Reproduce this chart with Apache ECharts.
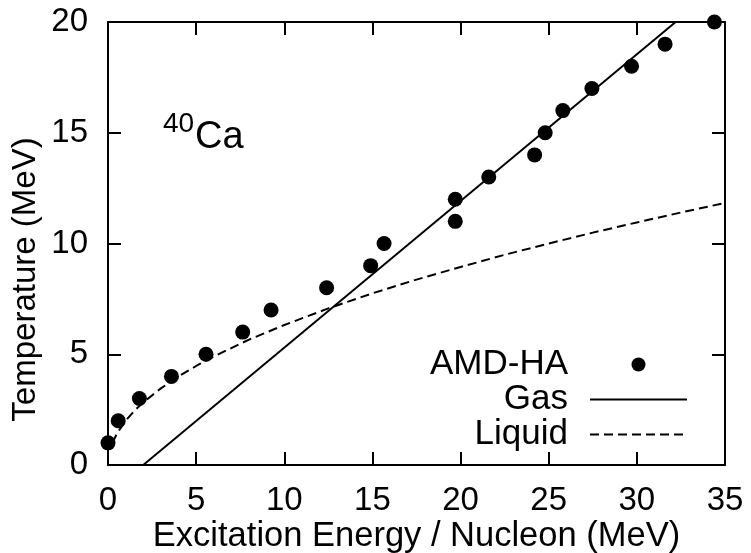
<!DOCTYPE html>
<html>
<head>
<meta charset="utf-8">
<script src="https://cdn.jsdelivr.net/npm/echarts@6/dist/echarts.min.js"></script>
<style>
html,body{margin:0;padding:0;background:#fff;}
#chart{width:751px;height:553px;}
</style>
</head>
<body>
<div id="chart"></div>
<script>
// AMD-HA points (excitation energy per nucleon, temperature)
var amdE = [0, 0.58, 1.78, 3.6, 5.56, 7.64, 9.25, 12.4, 14.9, 15.66, 19.7, 19.7, 21.6, 24.2, 24.8, 25.8, 27.45, 29.7, 31.6, 34.4];
var amdT = [1, 2, 3, 4, 5, 6, 7, 8, 9, 10, 11, 12, 13, 14, 15, 16, 17, 18, 19, 20];
// Gas line end points
var gasE = [2, 32.2];
var gasT = [0, 20];
// Liquid curve
var liquidE = [0.25, 0.5, 1, 1.5, 2, 3, 4, 5, 6, 8, 10, 12.5, 15, 17.5, 20, 22.5, 25, 27.5, 30, 32.5, 35];
var liquidT = [1.0, 1.41, 2.0, 2.45, 2.83, 3.46, 4.0, 4.47, 4.9, 5.66, 6.32, 7.07, 7.75, 8.37, 8.94, 9.49, 10.0, 10.49, 10.95, 11.4, 11.83];
var xTicks = [0, 5, 10, 15, 20, 25, 30, 35];
var yTicks = [0, 5, 10, 15, 20];

function zip(a, b) { return a.map(function (v, i) { return [v, b[i]]; }); }

var FONT = 'Liberation Sans, Arial, Helvetica, sans-serif';
var FS = 33;

var chart = echarts.init(document.getElementById('chart'), null, {renderer: 'canvas'});

var axisCommon = {
  axisLine: {show: true, onZero: false, lineStyle: {color: '#000', width: 2}},
  axisTick: {show: true, inside: true, length: 13, lineStyle: {color: '#000', width: 2}},
  splitLine: {show: false}
};

var option = {
  backgroundColor: '#fff',
  animation: false,
  grid: {left: 108, right: 26, top: 22, bottom: 88, containLabel: false, outerBoundsMode: 'none'},
  xAxis: [
    Object.assign({}, axisCommon, {
      type: 'value', position: 'bottom', min: xTicks[0], max: xTicks[xTicks.length - 1], interval: 5,
      name: 'Excitation Energy / Nucleon (MeV)', nameLocation: 'middle', nameGap: 54, nameMoveOverlap: false,
      nameTextStyle: {fontFamily: FONT, fontSize: 34.5, color: '#000'},
      axisLabel: {margin: 19, fontFamily: FONT, fontSize: FS, color: '#000'}
    }),
    Object.assign({}, axisCommon, {
      type: 'value', position: 'top', min: xTicks[0], max: xTicks[xTicks.length - 1], interval: 5,
      axisLabel: {show: false}
    })
  ],
  yAxis: [
    Object.assign({}, axisCommon, {
      type: 'value', position: 'left', min: yTicks[0], max: yTicks[yTicks.length - 1], interval: 5,
      name: 'Temperature (MeV)', nameLocation: 'middle', nameGap: 66, nameMoveOverlap: false,
      nameTextStyle: {fontFamily: FONT, fontSize: FS, color: '#000', padding: [0, 72, 0, 0]},
      axisLabel: {margin: 20, fontFamily: FONT, fontSize: FS, color: '#000'}
    }),
    Object.assign({}, axisCommon, {
      type: 'value', position: 'right', min: yTicks[0], max: yTicks[yTicks.length - 1], interval: 5,
      axisLabel: {show: false}
    })
  ],
  legend: {
    orient: 'vertical', align: 'right', right: 63, top: 347, padding: 0, itemGap: 0,
    itemWidth: 97, itemHeight: 14, selectedMode: false,
    textStyle: {fontFamily: FONT, fontSize: 35, color: '#000', lineHeight: 35, padding: [0, 17, 0, 0]},
    data: [
      {name: 'AMD-HA'},
      {name: 'Gas', itemStyle: {opacity: 0}},
      {name: 'Liquid', itemStyle: {opacity: 0}}
    ]
  },
  graphic: [
    {type: 'text', left: 163, top: 110, style: {text: '40', font: '28px ' + FONT, fill: '#000'}},
    {type: 'text', left: 195, top: 119, style: {text: 'Ca', font: '38px ' + FONT, fill: '#000'}}
  ],
  series: [
    {
      name: 'AMD-HA', type: 'scatter', symbol: 'circle', symbolSize: 15, clip: false,
      itemStyle: {color: '#000', opacity: 1}, data: zip(amdE, amdT), z: 5
    },
    {
      name: 'Gas', type: 'line', symbol: 'none', showSymbol: false,
      lineStyle: {color: '#000', width: 2, type: 'solid'}, itemStyle: {color: '#000'},
      data: zip(gasE, gasT)
    },
    {
      name: 'Liquid', type: 'line', symbol: 'none', showSymbol: false, smooth: false,
      lineStyle: {color: '#000', width: 2, type: [9, 5]}, itemStyle: {color: '#000'},
      data: zip(liquidE, liquidT)
    }
  ]
};
chart.setOption(option);
</script>
</body>
</html>
